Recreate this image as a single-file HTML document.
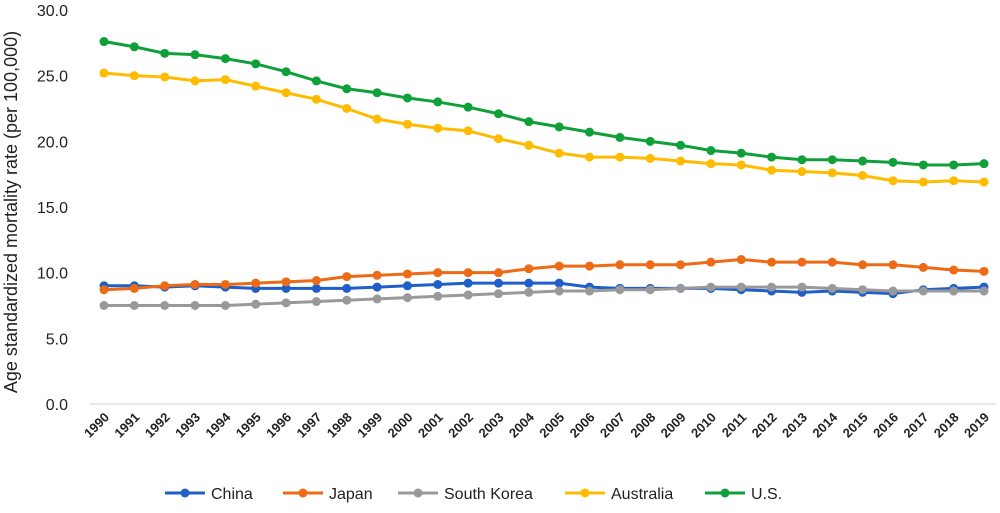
<!DOCTYPE html>
<html><head><meta charset="utf-8"><style>
body{margin:0;background:#fff;width:1000px;height:508px;overflow:hidden;font-family:"Liberation Sans",sans-serif}
</style></head><body>
<svg id="chart" width="1000" height="508" xmlns="http://www.w3.org/2000/svg">
<g id="yaxis"></g>
<g id="xaxis"></g>
<g id="series"></g>
<g id="legend"></g>
<text transform="translate(17,212) rotate(-90)" text-anchor="middle" font-size="18" fill="#222">Age standardized mortality rate (per 100,000)</text>
</svg>
<script>
const years=[];for(let y=1990;y<=2019;y++)years.push(String(y));
const yTicks=[0,5,10,15,20,25,30];
const china=[9.0,9.0,8.9,9.0,8.9,8.8,8.8,8.8,8.8,8.9,9.0,9.1,9.2,9.2,9.2,9.2,8.9,8.8,8.8,8.8,8.8,8.7,8.6,8.5,8.6,8.5,8.4,8.7,8.8,8.9];
const japan=[8.7,8.8,9.0,9.1,9.1,9.2,9.3,9.4,9.7,9.8,9.9,10.0,10.0,10.0,10.3,10.5,10.5,10.6,10.6,10.6,10.8,11.0,10.8,10.8,10.8,10.6,10.6,10.4,10.2,10.1];
const korea=[7.5,7.5,7.5,7.5,7.5,7.6,7.7,7.8,7.9,8.0,8.1,8.2,8.3,8.4,8.5,8.6,8.6,8.7,8.7,8.8,8.9,8.9,8.9,8.9,8.8,8.7,8.6,8.6,8.6,8.6];
const australia=[25.2,25.0,24.9,24.6,24.7,24.2,23.7,23.2,22.5,21.7,21.3,21.0,20.8,20.2,19.7,19.1,18.8,18.8,18.7,18.5,18.3,18.2,17.8,17.7,17.6,17.4,17.0,16.9,17.0,16.9];
const us=[27.6,27.2,26.7,26.6,26.3,25.9,25.3,24.6,24.0,23.7,23.3,23.0,22.6,22.1,21.5,21.1,20.7,20.3,20.0,19.7,19.3,19.1,18.8,18.6,18.6,18.5,18.4,18.2,18.2,18.3];
const names=["China","Japan","South Korea","Australia","U.S."];
const colors=["#1f5fc8","#ed6a17","#999999","#ffbb00","#10a03a"];
const allSeries=[china,japan,korea,australia,us];
const NS="http://www.w3.org/2000/svg";
const x=i=>104+i*(984-104)/(years.length-1);
const y=v=>404-v*(404-10)/30;
function mk(t,a,p){const e=document.createElementNS(NS,t);for(const k in a)e.setAttribute(k,a[k]);p.appendChild(e);return e;}
const ya=document.getElementById('yaxis');
yTicks.forEach(t=>{const e=mk('text',{x:68,y:y(t)+6,'text-anchor':'end','font-size':16,fill:'#222'},ya);e.textContent=t.toFixed(1);

});
const xa=document.getElementById('xaxis');
const ax=mk('line',{x1:90,x2:996,y1:404,y2:404,stroke:'#d0d0d0','stroke-width':1},xa);


years.forEach((yr,i)=>{const e=mk('text',{transform:`translate(${x(i)+6},${418}) rotate(-45)`,'text-anchor':'end','font-size':13,'font-weight':'bold',fill:'#222'},xa);e.textContent=yr;

});
const sg=document.getElementById('series');
allSeries.forEach((s,k)=>{const g=mk('g',{},sg);


const l=mk('polyline',{points:s.map((v,i)=>x(i)+','+y(v)).join(' '),fill:'none',stroke:colors[k],'stroke-width':3},g);


s.forEach((v,i)=>{const c=mk('circle',{cx:x(i),cy:y(v),r:4.5,fill:colors[k]},g);

});});
const lg=document.getElementById('legend');
const lx=[165,283,398,565,705];
names.forEach((n,k)=>{const g=mk('g',{},lg);


mk('line',{x1:lx[k],x2:lx[k]+40,y1:493,y2:493,stroke:colors[k],'stroke-width':3},g);
mk('circle',{cx:lx[k]+20,cy:493,r:4.5,fill:colors[k]},g);
const t=mk('text',{x:lx[k]+46,y:499,'font-size':16,fill:'#222'},g);t.textContent=n;});
</script>
</body></html>
